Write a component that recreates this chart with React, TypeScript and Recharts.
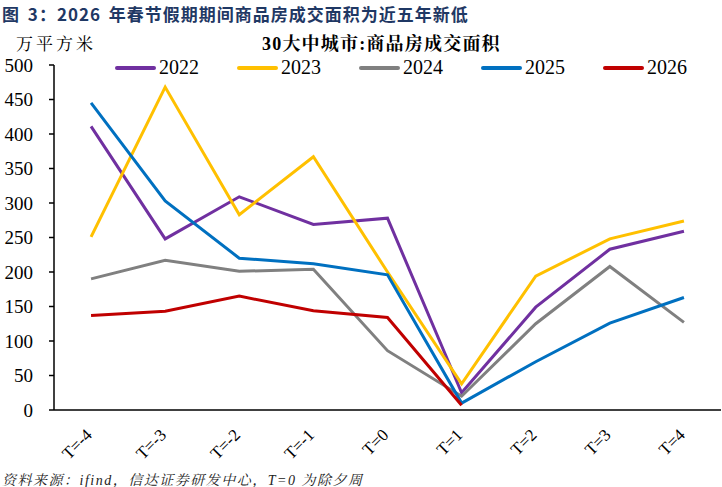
import React from "react";
import { LineChart, Line, XAxis, YAxis } from "recharts";

const categories = ["T=-4", "T=-3", "T=-2", "T=-1", "T=0", "T=1", "T=2", "T=3", "T=4"];

const s2022 = [411, 248, 309, 269, 278, 25, 149, 233, 259];
const s2023 = [251, 468, 283, 367, 200, 38, 194, 248, 274];
const s2024 = [190, 217, 201, 204, 86, 20, 125, 208, 127];
const s2025 = [445, 303, 220, 212, 196, 10, 70, 126, 163];
const s2026 = [137, 143, 165, 144, 134, 7, null, null, null];

const yTicks = [0, 50, 100, 150, 200, 250, 300, 350, 400, 450, 500];
const bandEdges = [0, 1, 2, 3, 4, 5, 6, 7, 8, 9];
const bandCenters = [0.5, 1.5, 2.5, 3.5, 4.5, 5.5, 6.5, 7.5, 8.5];

const series = [
  { key: "y2022", name: "2022", color: "#7030a0", values: s2022 },
  { key: "y2023", name: "2023", color: "#ffc000", values: s2023 },
  { key: "y2024", name: "2024", color: "#808080", values: s2024 },
  { key: "y2025", name: "2025", color: "#0070c0", values: s2025 },
  { key: "y2026", name: "2026", color: "#c00000", values: s2026 },
];

const rows = categories.map((label, i) => {
  const row: Record<string, any> = { x: bandCenters[i], label };
  series.forEach((s) => {
    row[s.key] = s.values[i];
  });
  return row;
});

const serif = '"Liberation Serif", "Times New Roman", "Noto Serif CJK SC", serif';
const cjk = '"Noto Sans CJK SC", sans-serif';

const CategoryTick = (props: any) => {
  const { x, y, payload } = props;
  const label = categories[Math.floor(payload.value)];
  const px = x + 2;
  const py = y + 25;
  return (
    <text
      x={px}
      y={py}
      transform={`rotate(-45, ${px}, ${py})`}
      textAnchor="end"
      fontFamily={serif}
      fontSize={17}
      fill="#000"
    >
      {label}
    </text>
  );
};

export default function App() {
  return (
    <div
      style={{
        position: "absolute",
        left: 0,
        top: 0,
        width: 722,
        height: 487,
        background: "#fff",
        overflow: "hidden",
      }}
    >
      <div
        style={{
          position: "absolute",
          left: 2,
          top: 1,
          fontFamily: cjk,
          fontWeight: 700,
          fontSize: 17,
          color: "#1f3864",
          whiteSpace: "nowrap",
          letterSpacing: 1,
          wordSpacing: 3,
        }}
      >
        图 3：2026 年春节假期期间商品房成交面积为近五年新低
      </div>
      <div
        style={{
          position: "absolute",
          left: 16,
          top: 30,
          fontFamily: serif,
          fontSize: 17,
          letterSpacing: 3,
          color: "#000",
          whiteSpace: "nowrap",
        }}
      >
        万平方米
      </div>
      <div
        style={{
          position: "absolute",
          left: 262,
          top: 29,
          fontFamily: serif,
          fontWeight: 700,
          fontSize: 18,
          letterSpacing: 1.2,
          color: "#000",
          whiteSpace: "nowrap",
        }}
      >
        30大中城市:商品房成交面积
      </div>
      <div
        style={{
          position: "absolute",
          left: 115,
          top: 56,
          display: "flex",
          fontFamily: serif,
          fontSize: 20,
          color: "#000",
        }}
      >
        {series.map((s) => (
          <div key={s.key} style={{ width: 122, display: "flex", alignItems: "center" }}>
            <span
              style={{
                display: "inline-block",
                width: 41,
                height: 4,
                borderRadius: 2,
                background: s.color,
                marginRight: 3,
              }}
            />
            <span>{s.name}</span>
          </div>
        ))}
      </div>
      <div style={{ position: "absolute", left: 0, top: 0 }}>
        <LineChart
          width={722}
          height={487}
          data={rows}
          margin={{ top: 65, right: 1, bottom: 0, left: 0 }}
        >
          <XAxis
            xAxisId="edges"
            dataKey="x"
            type="number"
            domain={[0, 9]}
            ticks={bandEdges}
            tick={false}
            tickSize={5}
            height={1}
            axisLine={{ stroke: "#000", strokeWidth: 1.5 }}
            tickLine={{ stroke: "#000", strokeWidth: 1.5 }}
          />
          <XAxis
            xAxisId="labels"
            dataKey="x"
            type="number"
            domain={[0, 9]}
            ticks={bandCenters}
            axisLine={false}
            tickLine={false}
            tickSize={0}
            tickMargin={0}
            height={76}
            interval={0}
            tick={<CategoryTick />}
          />
          <YAxis
            domain={[0, 500]}
            ticks={yTicks}
            interval={0}
            width={54}
            tickSize={5}
            tickMargin={16}
            axisLine={{ stroke: "#000", strokeWidth: 1.5 }}
            tickLine={{ stroke: "#000", strokeWidth: 1.5 }}
            tick={{ fill: "#000", fontSize: 19, fontFamily: serif }}
          />
          {series.map((s) => (
            <Line
              key={s.key}
              xAxisId="edges"
              type="linear"
              dataKey={s.key}
              name={s.name}
              stroke={s.color}
              strokeWidth={3}
              dot={false}
              activeDot={false}
              connectNulls={false}
              isAnimationActive={false}
            />
          ))}
        </LineChart>
      </div>
      <div
        style={{
          position: "absolute",
          left: 2,
          top: 469,
          fontFamily: serif,
          fontStyle: "italic",
          fontSize: 14,
          color: "#222",
          whiteSpace: "nowrap",
          letterSpacing: 1.5,
        }}
      >
        资料来源：ifind，信达证券研发中心，T=0 为除夕周
      </div>
    </div>
  );
}
